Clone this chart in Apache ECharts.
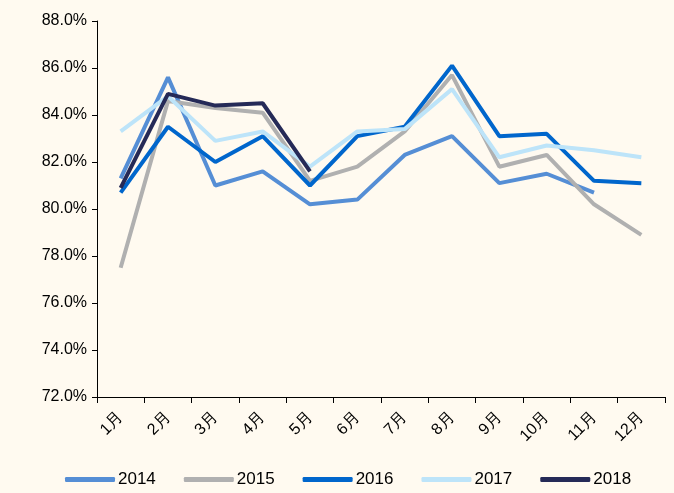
<!DOCTYPE html>
<html>
<head>
<meta charset="utf-8">
<script src="https://cdn.jsdelivr.net/npm/echarts@6/dist/echarts.min.js"></script>
<style>
html,body{margin:0;padding:0;background:#FFFAF0;}
#main{width:674px;height:493px;}
</style>
</head>
<body>
<div id="main"></div>
<script>
var months = ['1月','2月','3月','4月','5月','6月','7月','8月','9月','10月','11月','12月'];
var years = ['2014','2015','2016','2017','2018'];
var d2014 = [81.3,85.6,81.0,81.6,80.2,80.4,82.3,83.1,81.1,81.5,80.7,null];
var d2015 = [77.5,84.6,84.3,84.1,81.2,81.8,83.3,85.7,81.8,82.3,80.2,78.9];
var d2016 = [80.7,83.5,82.0,83.1,81.0,83.1,83.5,86.1,83.1,83.2,81.2,81.1];
var d2017 = [83.3,84.8,82.9,83.3,81.8,83.3,83.4,85.1,82.2,82.7,82.5,82.2];
var d2018 = [80.9,84.9,84.4,84.5,81.6,null,null,null,null,null,null,null];
var colors = ['#558ED5','#B0B0B0','#0066CC','#BDE4F9','#252A57'];
var allData = [d2014,d2015,d2016,d2017,d2018];

var chart = echarts.init(document.getElementById('main'));
var series = [];
for (var i = 0; i < years.length; i++) {
    series.push({
        name: years[i],
        type: 'line',
        data: allData[i],
        showSymbol: false,
        symbol: 'none',
        lineStyle: {color: colors[i], width: 4},
        itemStyle: {color: colors[i]},
        z: 2 + i
    });
}
chart.setOption({
    backgroundColor: '#FFFAF0',
    animation: false,
    color: colors,
    grid: {left: 97, right: 9, top: 21, bottom: 96},
    legend: {
        top: 466,
        left: 60,
        itemWidth: 50,
        itemHeight: 5,
        itemGap: 28,
        icon: 'roundRect',
        textStyle: {fontFamily: 'Liberation Sans', fontSize: 17, color: '#000', padding: [0,0,0,-2]},
        data: years
    },
    xAxis: {
        type: 'category',
        data: months,
        boundaryGap: true,
        axisLine: {lineStyle: {color: '#000', width: 1}},
        axisTick: {show: true, length: 6, lineStyle: {color: '#000'}},
        axisLabel: {rotate: 45, fontFamily: 'Liberation Sans', fontSize: 16, color: '#000', margin: 18, interval: 0}
    },
    yAxis: {
        type: 'value',
        min: 72,
        max: 88,
        interval: 2,
        axisLine: {show: true, lineStyle: {color: '#000', width: 1}},
        axisTick: {show: true, length: 5, lineStyle: {color: '#000'}},
        splitLine: {show: false},
        axisLabel: {
            fontFamily: 'Liberation Sans', fontSize: 16, color: '#000', margin: 10,
            formatter: function(v){ return v.toFixed(1) + '%'; }
        }
    },
    series: series
});
</script>
</body>
</html>
